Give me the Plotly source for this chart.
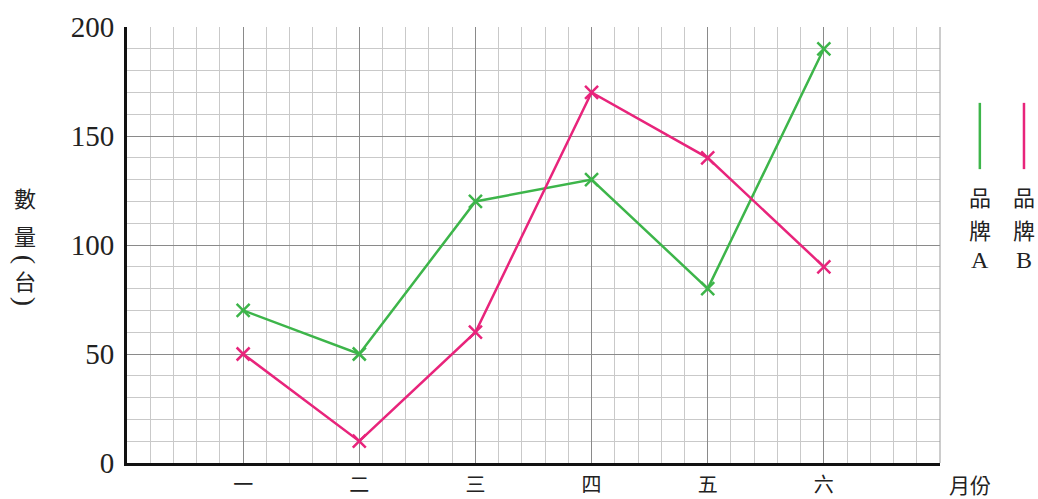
import plotly.graph_objects as go

months = ["一", "二", "三", "四", "五", "六"]
brand_a = [70, 50, 120, 130, 80, 190]
brand_b = [50, 10, 60, 170, 140, 90]
y_ticks = [0, 50, 100, 150, 200]

green = "#3db54a"
pink = "#e8247b"
serif = "Liberation Serif, Noto Sans CJK TC, serif"
cjk = "Noto Sans CJK TC, Liberation Serif, serif"

xpos = list(range(len(months)))

fig = go.Figure()
fig.add_trace(go.Scatter(x=xpos, y=brand_a, mode="lines+markers", name="品牌A",
                         line=dict(color=green, width=2.5),
                         marker=dict(symbol="x-thin", size=13, line=dict(color=green, width=2.5))))
fig.add_trace(go.Scatter(x=xpos, y=brand_b, mode="lines+markers", name="品牌B",
                         line=dict(color=pink, width=2.5),
                         marker=dict(symbol="x-thin", size=13, line=dict(color=pink, width=2.5))))

fig.update_layout(
    width=1038, height=499,
    margin=dict(l=127, r=98, t=27, b=36, autoexpand=False),
    paper_bgcolor="white", plot_bgcolor="white",
    showlegend=False,
    font=dict(family=serif, color="#222"),
)
fig.update_xaxes(
    range=[-1, 6], tickmode="array", tickvals=xpos, ticktext=months,
    tickfont=dict(family=cjk, size=20, color="#222"),
    showgrid=True, gridcolor="#8a8a8a", gridwidth=1,
    minor=dict(dtick=0.2, tick0=0, showgrid=True, gridcolor="#c9c9c9", gridwidth=1),
    showline=True, linecolor="#111", linewidth=3,
    ticks="", ticklabelstandoff=2, zeroline=False, automargin=False,
)
fig.update_yaxes(
    range=[0, 200], tickmode="array", tickvals=y_ticks,
    tickfont=dict(family=serif, size=29, color="#222"),
    showgrid=True, gridcolor="#8a8a8a", gridwidth=1,
    minor=dict(dtick=10, tick0=0, showgrid=True, gridcolor="#c9c9c9", gridwidth=1),
    showline=True, linecolor="#111", linewidth=3,
    ticks="", ticklabelstandoff=4, zeroline=False, automargin=False,
)

# right border line
fig.add_shape(type="line", xref="paper", yref="paper", x0=1, x1=1, y0=0, y1=1,
              line=dict(color="#9a9a9a", width=1))

def txt(x, y, s, angle=0, family=cjk, size=22):
    fig.add_annotation(xref="paper", yref="paper", x=x, y=y, text=s, showarrow=False,
                       textangle=angle, font=dict(family=family, size=size, color="#222"),
                       xanchor="center", yanchor="middle")

# y axis title (vertical)
txt(-0.1255, 0.610, "數")
txt(-0.1255, 0.523, "量")
txt(-0.1255, 0.466, "(", angle=90, family=serif, size=28)
txt(-0.1255, 0.420, "台")
txt(-0.1255, 0.370, ")", angle=90, family=serif, size=28)
# x axis title
txt(1.037, -0.048, "月份", size=21)

# legend
for xp, col, lab in [(1.049, green, "A"), (1.1033, pink, "B")]:
    fig.add_shape(type="line", xref="paper", yref="paper", x0=xp, x1=xp, y0=0.674, y1=0.826,
                  line=dict(color=col, width=2.5))
    txt(xp, 0.612, "品")
    txt(xp, 0.537, "牌")
    txt(xp, 0.466, lab, family=serif, size=24)

fig.write_html("out.html", config={"displayModeBar": False},
               post_script="document.body.style.margin='0';document.body.style.overflow='hidden';")
